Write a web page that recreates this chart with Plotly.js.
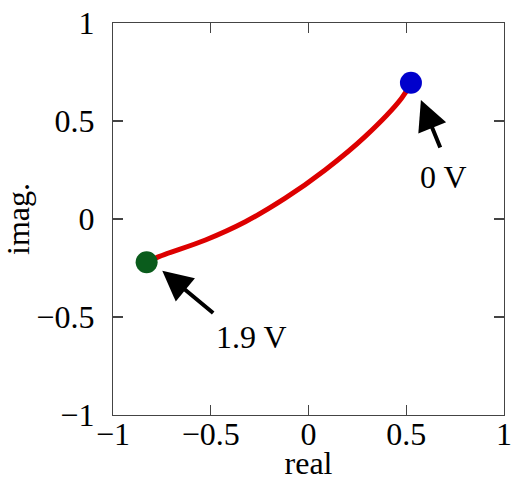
<!DOCTYPE html>
<html>
<head>
<meta charset="utf-8">
<script src="https://cdn.plot.ly/plotly-3.0.1.min.js"></script>
<style>html,body{margin:0;padding:0;background:#fff;}#plot{width:513px;height:481px;}</style>
</head>
<body>
<div id="plot"></div>
<script>
var curveReal = [-0.828, -0.765, -0.527, -0.323, -0.119, 0.085, 0.289, 0.476, 0.524];
var curveImag = [-0.221, -0.192, -0.107, -0.014, 0.106, 0.250, 0.420, 0.616, 0.695];
var startPoint = {real: 0.524, imag: 0.695, label: '0 V'};
var endPoint = {real: -0.828, imag: -0.221, label: '1.9 V'};
var tickVals = [-1, -0.5, 0, 0.5, 1];
var tickText = ['\u22121', '\u22120.5', '0', '0.5', '1'];

var font = {family: 'Liberation Serif, Times New Roman, serif', size: 32, color: '#000'};

var traces = [
  {x: curveReal, y: curveImag, mode: 'lines', line: {color: '#dd0000', width: 5, shape: 'spline'}, hoverinfo: 'none'},
  {x: [startPoint.real], y: [startPoint.imag], mode: 'markers', marker: {color: '#0000cc', size: 22}},
  {x: [endPoint.real], y: [endPoint.imag], mode: 'markers', marker: {color: '#0a5c1c', size: 22}}
];

var axisCommon = {
  range: [-1, 1], tickvals: tickVals, ticktext: tickText,
  showgrid: false, zeroline: false, showline: true, linecolor: '#444', linewidth: 1.2,
  mirror: 'ticks', ticks: 'inside', ticklen: 10, tickwidth: 1.2, tickcolor: '#444',
  tickfont: font, ticklabeloverflow: 'allow'
};

var layout = {
  width: 513, height: 481,
  margin: {l: 113, r: 9, t: 23, b: 66},
  showlegend: false,
  paper_bgcolor: '#fff', plot_bgcolor: '#fff',
  font: font,
  xaxis: Object.assign({}, axisCommon, {ticklabelstandoff: -10, title: {text: 'real', font: font, standoff: 9}}),
  yaxis: Object.assign({}, axisCommon, {ticklabelstandoff: 11, title: {text: 'imag.', font: font, standoff: 0}}),
  annotations: [
    {x: 0.575, y: 0.607, ax: 0.677, ay: 0.357, axref: 'x', ayref: 'y', xref: 'x', yref: 'y',
     text: '', showarrow: true, arrowhead: 2, arrowsize: 1.5, arrowwidth: 4, arrowcolor: '#000', standoff: 0},
    {x: -0.748, y: -0.264, ax: -0.480, ay: -0.486, axref: 'x', ayref: 'y', xref: 'x', yref: 'y',
     text: '', showarrow: true, arrowhead: 2, arrowsize: 1.5, arrowwidth: 4, arrowcolor: '#000', standoff: 0},
    {x: 0.692, y: 0.216, xref: 'x', yref: 'y', text: startPoint.label, showarrow: false, font: font},
    {x: -0.292, y: -0.604, xref: 'x', yref: 'y', text: endPoint.label, showarrow: false, font: font}
  ]
};

Plotly.newPlot('plot', traces, layout, {displayModeBar: false, staticPlot: true});
</script>
</body>
</html>
